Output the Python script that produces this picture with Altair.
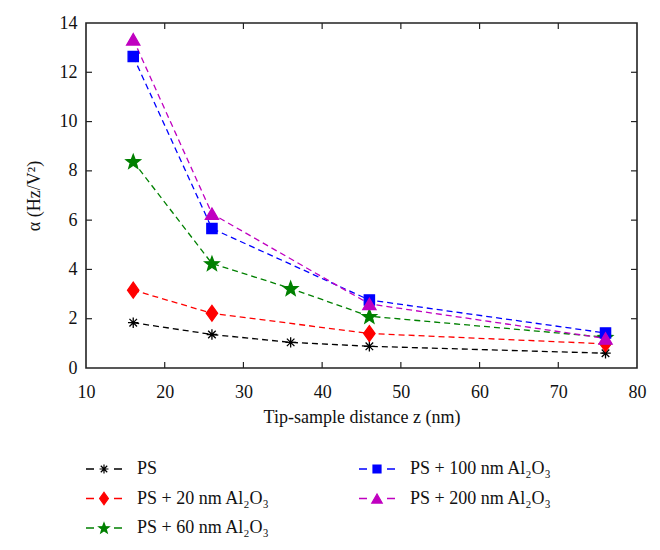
import math
import altair as alt
import pandas as pd

# ---------------- data ----------------
z_nm = [16, 26, 36, 46, 76]
series_names = [
    "PS",
    "PS + 20 nm Al₂O₃",
    "PS + 60 nm Al₂O₃",
    "PS + 100 nm Al₂O₃",
    "PS + 200 nm Al₂O₃",
]
alpha_ps = [1.84, 1.36, 1.04, 0.88, 0.60]
alpha_20 = [3.16, 2.22, None, 1.40, 0.98]
alpha_60 = [8.38, 4.24, 3.23, 2.10, 1.25]
alpha_100 = [12.64, 5.66, None, 2.76, 1.42]
alpha_200 = [13.34, 6.26, None, 2.60, 1.20]
x_ticks = [10, 20, 30, 40, 50, 60, 70, 80]
y_ticks = [0, 2, 4, 6, 8, 10, 12, 14]

series_values = [alpha_ps, alpha_20, alpha_60, alpha_100, alpha_200]
colors = ["#000000", "#ff0000", "#008000", "#0000ff", "#c000c0"]

# ---------------- marker shapes ----------------
asterisk = "M0,-1V1M-1,0H1M-0.72,-0.72L0.72,0.72M-0.72,0.72L0.72,-0.72"
diamond = "M0,-1L0.72,0L0,1L-0.72,0Z"
pts = []
for k in range(10):
    ang = math.radians(-90 + 36 * k)
    r = 1.0 if k % 2 == 0 else 0.42
    pts.append(f"{r * math.cos(ang):.3f},{r * math.sin(ang) + 0.08:.3f}")
star = "M" + "L".join(pts) + "Z"
shapes = [asterisk, diamond, star, "square", "triangle-up"]
sizes = [110, 250, 230, 105, 175]
legend_sizes = [80, 150, 120, 64, 110]

rows = []
for name, vals in zip(series_names, series_values):
    for zz, v in zip(z_nm, vals):
        if v is not None:
            rows.append({"series": name, "z": zz, "alpha": v})
df = pd.DataFrame(rows)

W, H = 551, 345
FONT = "Liberation Serif"

color_scale = alt.Scale(domain=series_names, range=colors)
shape_scale = alt.Scale(domain=series_names, range=shapes)
size_scale = alt.Scale(type="ordinal", domain=series_names, range=sizes)

x_enc = alt.X(
    "z:Q",
    scale=alt.Scale(domain=[10, 80], nice=False),
    axis=alt.Axis(
        values=x_ticks, format="d", tickSize=0, domain=False, grid=False,
        labelPadding=15, labelFlush=False, titlePadding=7,
        title="Tip-sample distance z (nm)",
    ),
)
y_enc = alt.Y(
    "alpha:Q",
    scale=alt.Scale(domain=[0, 14], nice=False),
    axis=alt.Axis(
        values=y_ticks, format="d", tickSize=0, domain=False, grid=False,
        labelPadding=9, titlePadding=16, title="α (Hz/V²)",
    ),
)

base = alt.Chart(df)
lines = base.mark_line(strokeDash=[6, 4], strokeWidth=1.3).encode(
    x=x_enc, y=y_enc,
    color=alt.Color("series:N", scale=color_scale, legend=None),
)
points = base.mark_point(filled=True, opacity=1, strokeWidth=1.3).encode(
    x="z:Q", y="alpha:Q",
    fill=alt.Fill("series:N", scale=color_scale, legend=None),
    stroke=alt.Stroke("series:N", scale=color_scale, legend=None),
    shape=alt.Shape("series:N", scale=shape_scale, legend=None),
    size=alt.Size("series:N", scale=size_scale, legend=None),
)

xt = pd.DataFrame({"z": x_ticks[1:-1]})
yt = pd.DataFrame({"alpha": y_ticks[1:-1]})
tick_style = dict(color="#222222", strokeWidth=1.2)
t_bottom = alt.Chart(xt).mark_rule(**tick_style).encode(
    x="z:Q", y=alt.value(H), y2=alt.value(H - 6))
t_top = alt.Chart(xt).mark_rule(**tick_style).encode(
    x="z:Q", y=alt.value(0), y2=alt.value(6))
t_left = alt.Chart(yt).mark_rule(**tick_style).encode(
    y="alpha:Q", x=alt.value(0), x2=alt.value(6))
t_right = alt.Chart(yt).mark_rule(**tick_style).encode(
    y="alpha:Q", x=alt.value(W), x2=alt.value(W - 6))

main = alt.layer(lines, points, t_bottom, t_top, t_left, t_right)

# ---------------- legend (two columns, filled column-wise) ----------------
leg = pd.DataFrame({
    "series": series_names,
    "col": [i // 3 for i in range(len(series_names))],
    "row": [i % 3 for i in range(len(series_names))],
})
lx = alt.X("col:Q", scale=alt.Scale(domain=[0, 1], range=[18, 291]), axis=None)
ly = alt.Y("row:Q", scale=alt.Scale(domain=[0, 2], range=[446, 505]), axis=None)
lbase = alt.Chart(leg)
leg_rule = lbase.mark_rule(strokeDash=[8, 20], strokeWidth=1.3, xOffset=-18, x2Offset=18).encode(
    x=lx, x2="col:Q", y=ly,
    color=alt.Color("series:N", scale=color_scale, legend=None),
)
leg_pts = lbase.mark_point(filled=True, opacity=1, strokeWidth=1.2).encode(
    x=lx, y=ly,
    fill=alt.Fill("series:N", scale=color_scale, legend=None),
    stroke=alt.Stroke("series:N", scale=color_scale, legend=None),
    shape=alt.Shape("series:N", scale=alt.Scale(domain=series_names, range=shapes), legend=None),
    size=alt.Size("series:N", scale=alt.Scale(type="ordinal", domain=series_names, range=legend_sizes), legend=None),
)
leg_txt = lbase.mark_text(align="left", baseline="middle", dx=33, fontSize=18,
                          font=FONT, color="#111111").encode(
    x=lx, y=ly, text="series:N")
legend = alt.layer(leg_rule, leg_pts, leg_txt)

chart = (
    alt.layer(main, legend)
    .resolve_scale(x="independent", y="independent", shape="independent", size="independent")
    .properties(
        width=W, height=H,
        background="white",
        autosize=alt.AutoSizeParams(type="none"),
        padding={"left": 78, "top": 15, "right": 15, "bottom": 170},
    )
    .configure_view(stroke="#222222", strokeWidth=1.6)
    .configure_axis(
        labelFont=FONT, labelFontSize=18, labelColor="#111111",
        titleFont=FONT, titleFontSize=18, titleFontWeight="normal", titleColor="#111111",
    )
)

chart.save("out.html", embed_options={"renderer": "svg", "actions": False})
